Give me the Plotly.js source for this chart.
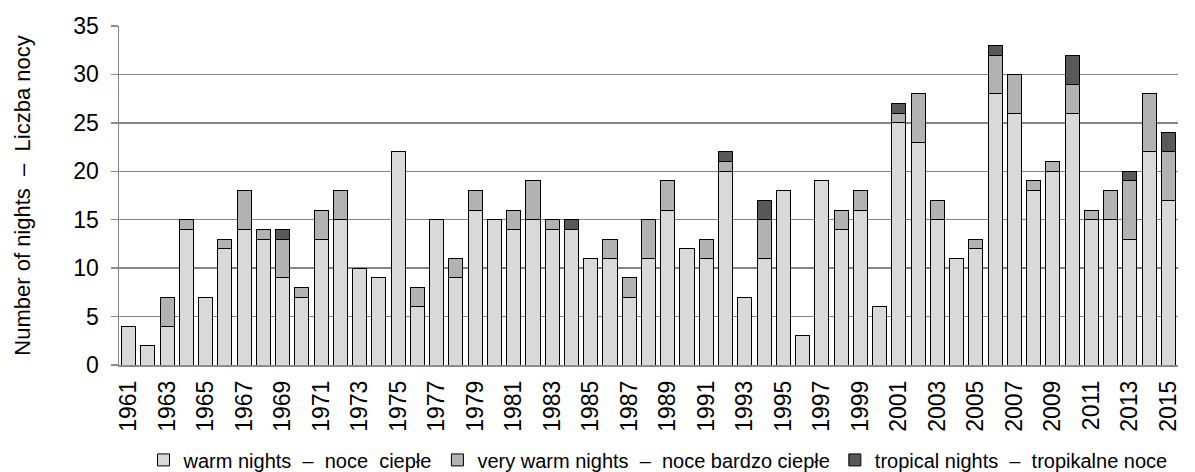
<!DOCTYPE html>
<html>
<head>
<meta charset="utf-8">
<script src="https://cdn.plot.ly/plotly-3.0.1.min.js"></script>
<style>
  html, body { margin: 0; padding: 0; background: #ffffff; }
  #chart { width: 1195px; height: 472px; }
</style>
</head>
<body>
<div id="chart"></div>
<script>
// Years 1961–2015
const years = [1961,1962,1963,1964,1965,1966,1967,1968,1969,1970,
               1971,1972,1973,1974,1975,1976,1977,1978,1979,1980,
               1981,1982,1983,1984,1985,1986,1987,1988,1989,1990,
               1991,1992,1993,1994,1995,1996,1997,1998,1999,2000,
               2001,2002,2003,2004,2005,2006,2007,2008,2009,2010,
               2011,2012,2013,2014,2015];

// warm nights – noce ciepłe
const warmNights = [4,2,4,14,7,12,14,13,9,7,
                    13,15,10,9,22,6,15,9,16,15,
                    14,15,14,14,11,11,7,11,16,12,
                    11,20,7,11,18,3,19,14,16,6,
                    25,23,15,11,12,28,26,18,20,26,
                    15,15,13,22,17];

// very warm nights – noce bardzo ciepłe
const veryWarmNights = [0,0,3,1,0,1,4,1,4,1,
                        3,3,0,0,0,2,0,2,2,0,
                        2,4,1,0,0,2,2,4,3,0,
                        2,1,0,4,0,0,0,2,2,0,
                        1,5,2,0,1,4,4,1,1,3,
                        1,3,6,6,5];

// tropical nights – tropikalne noce
const tropicalNights = [0,0,0,0,0,0,0,0,1,0,
                        0,0,0,0,0,0,0,0,0,0,
                        0,0,0,1,0,0,0,0,0,0,
                        0,1,0,2,0,0,0,0,0,0,
                        1,0,0,0,0,1,0,0,0,3,
                        0,0,1,0,2];

const seriesNames = [
  "warm nights \u00a0–\u00a0 noce \u00a0ciepłe",
  "very warm nights \u00a0–\u00a0 noce bardzo ciepłe",
  "tropical nights \u00a0–\u00a0 tropikalne noce"
];
const yTitle = "Number of nights \u00a0–\u00a0 Liczba nocy";
const yTicks = [0,5,10,15,20,25,30,35];

const FONT = "Liberation Sans, Arial, sans-serif";
const colors = ["#d9d9d9", "#b2b2b2", "#595959"];
const seriesData = [warmNights, veryWarmNights, tropicalNights];

const traces = seriesData.map((vals, i) => ({
  type: "bar",
  name: seriesNames[i],
  x: years,
  y: vals,
  marker: { color: colors[i], line: { color: "#000000", width: 1 } },
  hoverinfo: "x+y+name"
}));

const layout = {
  width: 1195,
  height: 472,
  paper_bgcolor: "#ffffff",
  plot_bgcolor: "#ffffff",
  barmode: "stack",
  bargap: 0.27,
  margin: { l: 119, r: 17, t: 26, b: 107, autoexpand: false },
  font: { family: FONT, size: 22, color: "#000000" },
  xaxis: {
    type: "linear",
    range: [1960.5, 2015.5],
    tickmode: "array",
    tickvals: years.filter((y, i) => i % 2 === 0),
    ticktext: years.filter((y, i) => i % 2 === 0).map(String),
    tickangle: -90,
    ticks: "",
    ticklabelstandoff: 5,
    showgrid: false,
    zeroline: false,
    showline: true,
    linecolor: "#8c8c8c",
    linewidth: 1.5,
    tickfont: { family: FONT, size: 23, color: "#000000" },
    automargin: false,
    fixedrange: true
  },
  yaxis: {
    range: [0, 35],
    tickmode: "array",
    tickvals: yTicks,
    ticktext: yTicks.map(String),
    ticks: "outside",
    ticklen: 7,
    tickwidth: 1.5,
    tickcolor: "#8c8c8c",
    ticklabelstandoff: 7,
    showgrid: true,
    gridcolor: "#868686",
    gridwidth: 1.5,
    zeroline: false,
    showline: true,
    linecolor: "#868686",
    linewidth: 1.5,
    tickfont: { family: FONT, size: 23, color: "#000000" },
    title: { text: yTitle, font: { family: FONT, size: 22, color: "#000000" }, standoff: 36 },
    automargin: false,
    fixedrange: true
  },
  showlegend: true,
  legend: {
    orientation: "h",
    x: 0.509,
    xanchor: "center",
    y: -0.28,
    yanchor: "middle",
    font: { family: FONT, size: 20, color: "#000000" },
    traceorder: "normal",
    itemwidth: 30,
    tracegroupgap: 0,
    bgcolor: "rgba(0,0,0,0)"
  }
};

Plotly.newPlot("chart", traces, layout, { displayModeBar: false, staticPlot: true });
</script>
</body>
</html>
